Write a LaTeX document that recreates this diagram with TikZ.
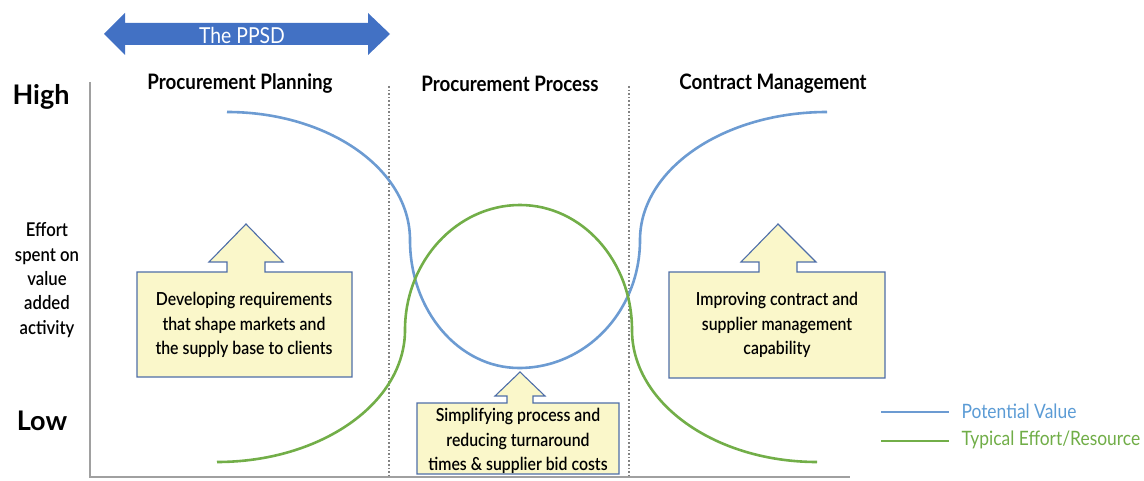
\documentclass[tikz,border=0pt]{standalone}
\usepackage{fontspec}
\setmainfont[FakeStretch=0.88]{Lato}
\newfontfamily\medfont[FakeStretch=0.88]{Lato Semibold}
\newfontfamily\widefont{Lato}
\definecolor{arrowblue}{RGB}{66,113,196}
\definecolor{curveblue}{RGB}{108,155,210}
\definecolor{curvegreen}{RGB}{114,174,72}
\definecolor{boxfill}{RGB}{250,247,202}
\definecolor{boxborder}{RGB}{78,110,168}
\definecolor{legblue}{RGB}{91,155,213}
\definecolor{leggreen}{RGB}{112,173,71}
\definecolor{axisgray}{RGB}{160,160,160}
\definecolor{dotgray}{RGB}{130,130,130}
\tikzset{
  callout/.style={draw=boxborder, fill=boxfill, line width=1.1pt, line join=miter},
  boxtext/.style={align=center, font=\medfont\fontsize{18}{24.5}\selectfont, text=black},
  header/.style={font=\fontsize{21.3}{23}\selectfont\bfseries},
  scalelabel/.style={font=\widefont\fontsize{27}{30}\selectfont\bfseries},
  ylabel/.style={align=center, font=\medfont\fontsize{19}{24.3}\selectfont},
  divider/.style={dotgray, dotted, line width=1.6pt},
  valuecurve/.style={curveblue, line width=2.6pt},
  effortcurve/.style={curvegreen, line width=2.6pt},
  legtext/.style={anchor=west, font=\fontsize{19.8}{22}\selectfont},
}
\begin{document}
\begin{tikzpicture}[x=1pt,y=-1pt]
\useasboundingbox (0,0) rectangle (1144,481);
% axes
\draw[axisgray, line width=2pt] (90,82) -- (90,477) -- (850,477);
% dividers
\draw[divider] (389,86) -- (389,477);
\draw[divider] (629,86) -- (629,477);
% PPSD double arrow
\fill[arrowblue] (104,34) -- (125,13) -- (125,23) -- (368,23) -- (368,13) -- (390,34) -- (368,55) -- (368,45) -- (125,45) -- (125,55) -- cycle;
\node[text=white, font=\fontsize{22}{24}\selectfont] (ppsd) at (242,35) {The PPSD};
% headers
\node[header] (h1) at (240,84) {Procurement Planning};
\node[header] (h2) at (510,84) {Procurement Process};
\node[header] (h3) at (773,84) {Contract Management};
% y labels
\node[scalelabel] (high) at (41,97) {High};
\node[scalelabel] (low) at (42,421) {Low};
\node[ylabel] (eff) at (47,280) {Effort\\spent on\\value\\added\\activity};
% curves
\draw[valuecurve] (227,112) .. controls (328,112) and (410,169) .. (410,240)
  .. controls (410,311) and (459,368) .. (519,368)
  .. controls (586,368) and (640,311) .. (640,240)
  .. controls (640,169) and (724,112) .. (827,112);
\draw[effortcurve] (217,462) .. controls (321,462) and (405,403) .. (405,330)
  .. controls (405,261) and (457,205) .. (520,205)
  .. controls (582,205) and (632,261) .. (632,330)
  .. controls (632,403) and (715,462) .. (817,462);
% callouts
\draw[callout] (137,272) -- (227,272) -- (227,262) -- (209,262) -- (246,224) -- (283,262) -- (265,262) -- (265,272) -- (352,272) -- (352,377) -- (137,377) -- cycle;
\node[boxtext] (t1) at (244,325) {Developing requirements\\that shape markets and\\the supply base to clients};
\draw[callout] (417,403) -- (507,403) -- (507,396) -- (495,396) -- (520,372) -- (545,396) -- (533,396) -- (533,403) -- (619,403) -- (619,474) -- (417,474) -- cycle;
\node[boxtext] (t2) at (518,441) {Simplifying process and\\reducing turnaround\\times \& supplier bid costs};
\draw[callout] (669,272) -- (759,272) -- (759,262) -- (741,262) -- (778,224) -- (816,262) -- (797,262) -- (797,272) -- (885,272) -- (885,378) -- (669,378) -- cycle;
\node[boxtext] (t3) at (777,325) {Improving contract and\\supplier management\\capability};
% legend
\coordinate (lb1) at (881,412); \coordinate (lb2) at (949,412);
\coordinate (lg1) at (881,441); \coordinate (lg2) at (949,441);
\draw[curveblue, line width=2.6pt] (lb1) -- (lb2);
\draw[curvegreen, line width=2.6pt] (lg1) -- (lg2);
\node[legtext, text=legblue] (lv) at (958,411) {Potential Value};
\node[legtext, text=leggreen] (le) at (958,440) {Typical Effort/Resource};
\end{tikzpicture}
\end{document}
